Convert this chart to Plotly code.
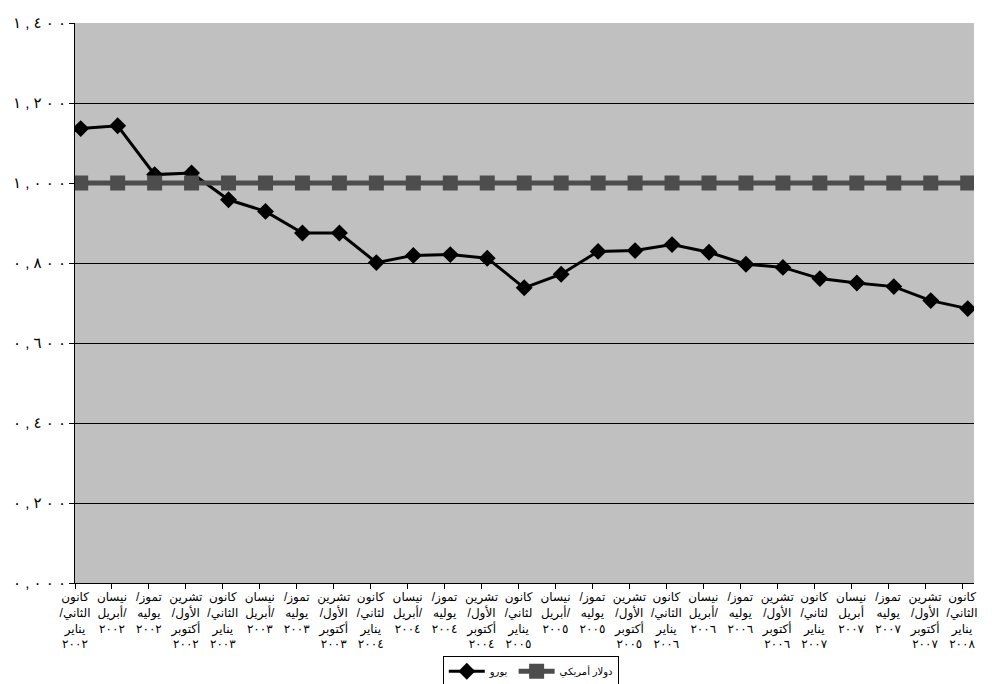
import plotly.graph_objects as go

# Quarterly periods, January 2002 to January 2008
periods = [
    "كانون<br>/الثاني<br>يناير<br>٢٠٠٢",
    "نيسان<br>أبريل/<br>٢٠٠٢",
    "/تموز<br>يوليه<br>٢٠٠٢",
    "تشرين<br>/الأول<br>أكتوبر<br>٢٠٠٢",
    "كانون<br>/الثاني<br>يناير<br>٢٠٠٣",
    "نيسان<br>أبريل/<br>٢٠٠٣",
    "/تموز<br>يوليه<br>٢٠٠٣",
    "تشرين<br>/الأول<br>أكتوبر<br>٢٠٠٣",
    "كانون<br>/لثاني<br>يناير<br>٢٠٠٤",
    "نيسان<br>أبريل/<br>٢٠٠٤",
    "/تموز<br>يوليه<br>٢٠٠٤",
    "تشرين<br>/الأول<br>أكتوبر<br>٢٠٠٤",
    "كانون<br>/لثاني<br>يناير<br>٢٠٠٥",
    "نيسان<br>أبريل/<br>٢٠٠٥",
    "/تموز<br>يوليه<br>٢٠٠٥",
    "تشرين<br>/الأول<br>أكتوبر<br>٢٠٠٥",
    "كانون<br>/الثاني<br>يناير<br>٢٠٠٦",
    "نيسان<br>أبريل/<br>٢٠٠٦",
    "/تموز<br>يوليه<br>٢٠٠٦",
    "تشرين<br>/الأول<br>أكتوبر<br>٢٠٠٦",
    "كانون<br>/لثاني<br>يناير<br>٢٠٠٧",
    "نيسان<br>أبريل<br>٢٠٠٧",
    "/تموز<br>يوليه<br>٢٠٠٧",
    "تشرين<br>/الأول<br>أكتوبر<br>٢٠٠٧",
    "كانون<br>/الثاني<br>يناير<br>٢٠٠٨",
]

# Value of one US dollar in euro, and the dollar itself as reference
euro = [1.136, 1.143, 1.021, 1.025, 0.958, 0.929, 0.875, 0.875, 0.801,
        0.819, 0.821, 0.812, 0.738, 0.772, 0.829, 0.831, 0.846, 0.827,
        0.797, 0.789, 0.761, 0.750, 0.741, 0.706, 0.686]
dollar = [1.0] * len(euro)

# Value axis ticks, written with Arabic-Indic digits
y_ticks = [0.0, 0.2, 0.4, 0.6, 0.8, 1.0, 1.2, 1.4]
y_tick_text = ["٠,٠٠٠", "٠,٢٠٠", "٠,٤٠٠", "٠,٦٠٠", "٠,٨٠٠", "١,٠٠٠", "١,٢٠٠", "١,٤٠٠"]
# keep the digits in left-to-right order, spaced out
y_tick_labels = ["\u202d" + " ".join(t) + "\u202c" for t in y_tick_text]

idx = list(range(len(periods)))
label_shift = -0.154  # category labels and ticks sit slightly left of each point

fig = go.Figure()
fig.add_trace(go.Scatter(
    x=idx, y=euro, name="يورو", mode="lines+markers",
    line=dict(color="#000000", width=3),
    marker=dict(symbol="diamond", size=13, color="#000000"),
))
fig.add_trace(go.Scatter(
    x=idx, y=dollar, name="دولار أمريكي", mode="lines+markers",
    line=dict(color="#4D4D4D", width=5),
    marker=dict(symbol="square", size=15, color="#4D4D4D"),
))

fig.update_layout(
    width=992, height=684,
    margin=dict(l=75, r=18, t=23, b=101, autoexpand=False),
    paper_bgcolor="#FFFFFF",
    plot_bgcolor="#C0C0C0",
    font=dict(family="Liberation Sans, DejaVu Sans", color="#000000", size=12),
    showlegend=True,
    legend=dict(
        orientation="h", x=0.507, xanchor="center", y=-0.13, yanchor="top",
        bordercolor="#000000", borderwidth=1, bgcolor="#FFFFFF",
        font=dict(size=10), itemwidth=36, traceorder="normal",
    ),
)

fig.update_xaxes(
    range=[label_shift, len(periods) - 1 + 0.17],
    tickmode="array",
    tickvals=[i + label_shift for i in idx],
    ticktext=periods,
    tickangle=0,
    automargin=False,
    ticks="outside", ticklen=5, tickcolor="#000000",
    tickfont=dict(size=12),
    ticklabelstandoff=-2,
    showgrid=False, zeroline=False,
    showline=True, linecolor="#000000", linewidth=1,
)

fig.update_yaxes(
    range=[0, 1.4],
    tickmode="array",
    tickvals=y_ticks,
    ticktext=y_tick_labels,
    automargin=False,
    ticks="outside", ticklen=5, tickcolor="#000000",
    tickfont=dict(size=15),
    showgrid=True, gridcolor="#000000", gridwidth=1,
    zeroline=False,
    showline=True, linecolor="#000000", linewidth=1,
)

fig.write_html("out.html")
